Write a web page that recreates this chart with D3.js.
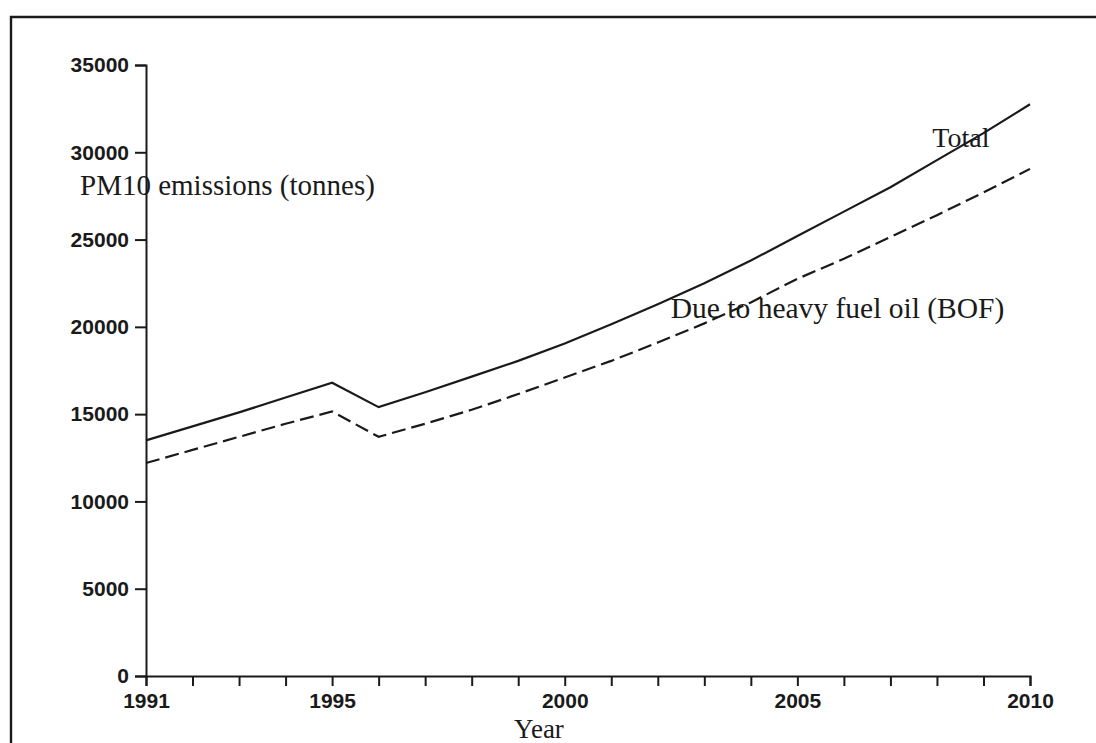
<!DOCTYPE html>
<html>
<head>
<meta charset="utf-8">
<script src="https://cdn.jsdelivr.net/npm/d3@7"></script>
<style>
  html, body { margin: 0; padding: 0; background: #fff; }
  svg { display: block; }
  .tick text { font-family: "Liberation Sans", Arial, sans-serif; font-size: 21px; font-weight: bold; fill: #1a1a1a; }
  .serif { font-family: "Liberation Serif", "Times New Roman", serif; font-size: 29px; fill: #1a1a1a; }
</style>
</head>
<body>
<svg id="chart" width="1096" height="743"></svg>
<script>
// PM10 emissions (tonnes), 1991-2010
const years = [1991, 1992, 1993, 1994, 1995, 1996, 1997, 1998, 1999, 2000,
               2001, 2002, 2003, 2004, 2005, 2006, 2007, 2008, 2009, 2010];
const totalEmissions = [13500, 14300, 15100, 15950, 16800, 15400, 16250, 17150, 18050, 19050,
                        20150, 21300, 22500, 23800, 25200, 26600, 28000, 29550, 31100, 32750];
const heavyFuelOil = [12200, 12950, 13700, 14450, 15150, 13700, 14450, 15250, 16150, 17100,
                      18050, 19100, 20200, 21400, 22750, 23900, 25150, 26400, 27700, 29050];
const yTicks = [0, 5000, 10000, 15000, 20000, 25000, 30000, 35000];
const xLabelYears = [1991, 1995, 2000, 2005, 2010];

const svg = d3.select("#chart");
const ink = "#1a1a1a";

// page frame (top and left edges)
svg.append("path")
  .attr("d", "M11,743V17H1096")
  .attr("fill", "none")
  .attr("stroke", ink)
  .attr("stroke-width", 2.4);

const x = d3.scaleLinear().domain([1991, 2010]).range([146, 1030]);
const y = d3.scaleLinear().domain([0, 35000]).range([676, 65]);

// y axis
const yAxis = svg.append("g")
  .attr("transform", `translate(${x(1991)},0)`)
  .call(d3.axisLeft(y).tickValues(yTicks).tickFormat(d3.format("d"))
        .tickSize(11).tickSizeOuter(11).tickPadding(6));

// x axis
const xAxis = svg.append("g")
  .attr("transform", `translate(0,${y(0)})`)
  .call(d3.axisBottom(x).tickValues(years)
        .tickFormat(d => xLabelYears.includes(d) ? String(d) : "")
        .tickSize(10).tickSizeOuter(10).tickPadding(7));

[yAxis, xAxis].forEach(g => {
  g.selectAll("path.domain").attr("stroke", ink).attr("stroke-width", 2);
  g.selectAll(".tick line").attr("stroke", ink).attr("stroke-width", 2);
});

const line = d3.line().x((d, i) => x(years[i])).y(d => y(d));

svg.append("path")
  .datum(totalEmissions)
  .attr("d", line)
  .attr("fill", "none")
  .attr("stroke", ink)
  .attr("stroke-width", 2.2);

svg.append("path")
  .datum(heavyFuelOil)
  .attr("d", line)
  .attr("fill", "none")
  .attr("stroke", ink)
  .attr("stroke-width", 2.2)
  .attr("stroke-dasharray", "14,6");

// labels
svg.append("text").attr("class", "serif")
  .attr("x", 80).attr("y", 195)
  .text("PM10 emissions (tonnes)");

svg.append("text").attr("class", "serif")
  .attr("x", x(2007.9)).attr("y", y(30300))
  .style("font-size", "28px")
  .text("Total");

svg.append("text").attr("class", "serif")
  .attr("x", x(2002.28)).attr("y", y(20500))
  .style("font-size", "29.5px")
  .text("Due to heavy fuel oil (BOF)");

svg.append("text").attr("class", "serif")
  .attr("x", 539).attr("y", 738)
  .attr("text-anchor", "middle")
  .style("font-size", "27px")
  .text("Year");
</script>
</body>
</html>
